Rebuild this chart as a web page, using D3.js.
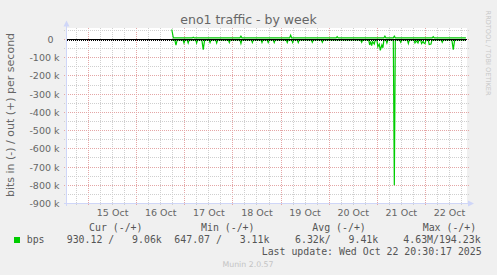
<!DOCTYPE html>
<html>
<head>
<meta charset="utf-8">
<script src="https://cdn.jsdelivr.net/npm/d3@7"></script>
<style>
body{margin:0;background:#f0f0f0;}
svg{display:block;}
</style>
</head>
<body>
<script>
// hours after 16 Oct 2025 00:00 and bits/s
var inHours = [17.5,19.0,19.6,20.2,23.1,23.6,24.1,25.2,25.7,26.2,29.4,29.9,30.4,32.5,33.2,33.9,
	36.1,36.6,37.1,39.4,39.9,40.4,45.7,46.2,46.7,51.5,52.0,52.5,57.2,57.7,58.2,62.0,62.5,63.0,
	65.1,65.6,66.1,68.1,68.6,69.1,74.6,75.1,75.6,77.3,77.8,78.3,80.1,80.6,81.1,87.1,87.6,88.1,
	92.1,92.6,93.1,111.7,112.2,112.7,115.7,116.2,116.7,117.2,117.7,118.5,119.0,119.8,120.3,121.0,
	121.5,122.3,122.8,123.3,124.3,124.8,125.3,128.0,128.5,129.0,131.2,131.7,132.2,135.0,135.5,136.0,
	138.3,138.8,139.5,140.3,140.8,141.6,142.1,142.8,143.3,143.8,144.3,145.4,145.9,146.8,147.3,
	151.9,152.4,152.9,157.2,157.9,158.6,164.2];
var inBps = [-2000,-2000,-31000,-2000,-2000,-19000,-2000,-2000,-19000,-2000,-2000,-19000,-2000,-2000,-55000,-2000,
	-2000,-17000,-2000,-2000,-19000,-2000,-2000,-17000,-2000,-2000,-22000,-2000,-2000,-17000,-2000,-2000,-17000,-2000,
	-2000,-17000,-2000,-2000,-17000,-2000,-2000,-17000,-2000,-2000,-17000,-2000,-2000,-17000,-2000,-2000,-15000,-2000,
	-2000,-15000,-2000,-2000,-15000,-2000,-2000,-30000,-10000,-33000,-12000,-25000,-2000,-2000,-40000,-25000,
	-59000,-30000,-45000,-2000,-2000,-19000,-2000,-2000,-800000,-2000,-2000,-15000,-2000,-2000,-22000,-2000,
	-2000,-19000,-8000,-19000,-2000,-2000,-22000,-10000,-19000,-22000,-2000,-2000,-27000,-25000,-2000,
	-2000,-15000,-2000,-2000,-55000,-2000,-2000];
var outHours = [17.5,18.3,27.7,28.2,28.7,51.5,52.0,52.5,76.3,76.8,77.3,99.5,100.0,100.5,
	123.3,123.8,124.3,128.0,128.5,129.0,147.4,147.9,148.4,164.2];
var outBps = [55000,9000,9000,13000,9000,9000,18000,9000,9000,24000,9000,9000,16000,9000,
	9000,18000,9000,9000,18000,9000,9000,16000,9000,9000];

var yTicks = [0,-100000,-200000,-300000,-400000,-500000,-600000,-700000,-800000,-900000];
var yMinor = [50000,-50000,-150000,-250000,-350000,-450000,-550000,-650000,-750000,-850000];
var dayLabels = ["15 Oct","16 Oct","17 Oct","18 Oct","19 Oct","20 Oct","21 Oct","22 Oct"];
var legendHead = ["Cur (-/+)","Min (-/+)","Avg (-/+)","Max (-/+)"];
var legendVals = ["930.12 /   9.06k","647.07 /   3.11k","6.32k/   9.41k","4.63M/194.23k"];

draw();
function draw(){
	var fontColor = "#666", gridColor = "#cfcfcf", mgridColor = "#e4a6a6", axisColor = "#cfd6f8";
	var base = Date.UTC(2025, 9, 16);
	function hourDate(h){ return new Date(base + h*3600000); }
	function keepSpaces(s){ return s.replace(/ /g, "\u00a0"); }

	var svg = d3.select("body").append("svg")
		.attr("width", 497).attr("height", 275)
		.style("font-family", "'DejaVu Sans', sans-serif");
	svg.append("rect").attr("width", 497).attr("height", 275).attr("fill", "#f0f0f0");

	var start = new Date(Date.UTC(2025, 9, 14, 13, 15)), end = new Date(Date.UTC(2025, 9, 22, 20, 45));
	var x = d3.scaleUtc().domain([start, end]).range([67, 467]);
	var y = d3.scaleLinear().domain([-900000, 60000]).range([203.5, 28.6]);
	function px(v){ return Math.floor(v) + 0.5; }

	// canvas
	svg.append("rect").attr("x", 67).attr("y", 28).attr("width", 400).attr("height", 175.5).attr("fill", "white");

	// vertical grid, minor every 6 h, major at midnight
	var hours = d3.utcHour.every(6).range(start, end);
	svg.selectAll(".vgrid").data(hours).enter().append("line")
		.attr("x1", function(d){ return px(x(d)); }).attr("x2", function(d){ return px(x(d)); })
		.attr("y1", 28).attr("y2", 206)
		.attr("stroke", function(d){ return d.getUTCHours() == 0 ? mgridColor : gridColor; })
		.attr("stroke-dasharray", "1,1");

	// horizontal grid
	svg.selectAll(".hminor").data(yMinor).enter().append("line")
		.attr("x1", 64).attr("x2", 470)
		.attr("y1", function(d){ return px(y(d)); }).attr("y2", function(d){ return px(y(d)); })
		.attr("stroke", gridColor).attr("stroke-dasharray", "1,1");
	svg.selectAll(".hmajor").data(yTicks).enter().append("line")
		.attr("x1", 64).attr("x2", 470)
		.attr("y1", function(d){ return px(y(d)); }).attr("y2", function(d){ return px(y(d)); })
		.attr("stroke", mgridColor).attr("stroke-dasharray", "1,1");

	// y tick labels
	svg.selectAll(".ylab").data(yTicks).enter().append("text")
		.attr("x", function(d){ return d == 0 ? 53.5 : 59.5; })
		.attr("y", function(d){ return y(d) + 3.5; })
		.attr("text-anchor", "end").attr("font-size", 9.5).attr("fill", fontColor)
		.text(function(d){ return d == 0 ? "0" : (d/1000) + " k"; });

	// x labels at noon
	svg.selectAll(".xlab").data(dayLabels).enter().append("text")
		.attr("x", function(d, i){ return x(new Date(Date.UTC(2025, 9, 15 + i, 12))); })
		.attr("y", 215.5)
		.attr("text-anchor", "middle").attr("font-size", 9.5).attr("fill", fontColor)
		.text(function(d){ return d; });

	// data
	var line = d3.line()
		.x(function(d){ return x(hourDate(d[0])); })
		.y(function(d){ return y(d[1]); });
	svg.append("path").datum(d3.zip(inHours, inBps))
		.attr("d", line).attr("fill", "none").attr("stroke", "#00cc00").attr("stroke-width", 1.2);
	svg.append("path").datum(d3.zip(outHours, outBps))
		.attr("d", line).attr("fill", "none").attr("stroke", "#00cc00").attr("stroke-width", 1.2);

	// zero line
	svg.append("line").attr("x1", 67).attr("x2", 467).attr("y1", px(y(0))).attr("y2", px(y(0)))
		.attr("stroke", "#000");
	svg.append("line").attr("x1", 67).attr("x2", 467).attr("y1", px(y(0)) + 1).attr("y2", px(y(0)) + 1)
		.attr("stroke", "#000").attr("stroke-dasharray", "1,1");

	// axes and arrows
	svg.append("line").attr("x1", 66.5).attr("x2", 66.5).attr("y1", 206).attr("y2", 25).attr("stroke", axisColor);
	svg.append("path").attr("d", "M63.5,26.5L69.5,26.5L66.5,20.5Z").attr("fill", axisColor);
	svg.append("line").attr("x1", 64).attr("x2", 469).attr("y1", 203.5).attr("y2", 203.5).attr("stroke", axisColor);
	svg.append("path").attr("d", "M468,200.5L468,206.5L474,203.5Z").attr("fill", axisColor);

	// title, vertical label, watermarks
	svg.append("text").attr("x", 248.5).attr("y", 24).attr("text-anchor", "middle")
		.attr("font-size", 12.5).attr("fill", fontColor).text("eno1 traffic - by week");
	svg.append("text").attr("transform", "translate(14,115) rotate(-90)").attr("text-anchor", "middle")
		.attr("font-size", 11).attr("fill", fontColor).text("bits in (-) / out (+) per second");
	svg.append("text").attr("transform", "translate(485.5,53) rotate(90)").attr("text-anchor", "middle")
		.attr("font-size", 6.6).attr("fill", "#c8c8c8").text("RRDTOOL / TOBI OETIKER");
	svg.append("text").attr("x", 248).attr("y", 267).attr("text-anchor", "middle")
		.attr("font-size", 7.8).attr("fill", "#c4c4c4").text("Munin 2.0.57");

	// legend
	var mono = svg.append("g").style("font-family", "'DejaVu Sans Mono', monospace")
		.attr("font-size", 9.9).attr("fill", "#555");
	var headX = [89, 201, 312.3, 422.7], valX = [66.7, 174.3, 295, 403.3];
	mono.selectAll(".head").data(legendHead).enter().append("text")
		.attr("x", function(d, i){ return headX[i]; }).attr("y", 231).text(function(d){ return keepSpaces(d); });
	mono.selectAll(".val").data(legendVals).enter().append("text")
		.attr("x", function(d, i){ return valX[i]; }).attr("y", 242.5).text(function(d){ return keepSpaces(d); });
	mono.append("text").attr("x", 26.7).attr("y", 242.5).text("bps");
	mono.append("text").attr("x", 261.7).attr("y", 254.5).text(keepSpaces("Last update: Wed Oct 22 20:30:17 2025"));
	svg.append("rect").attr("x", 14).attr("y", 237).attr("width", 6).attr("height", 6).attr("fill", "#00cc00");
}
</script>
</body>
</html>
